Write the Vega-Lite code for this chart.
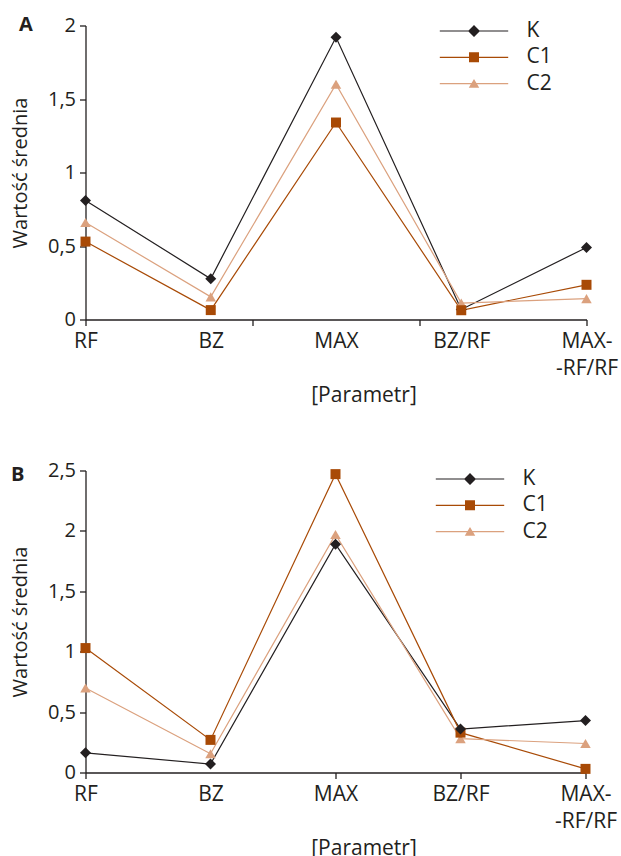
{
  "$schema": "https://vega.github.io/schema/vega-lite/v6.json",
  "padding": {"left": 9.5, "top": 14.5, "right": 0, "bottom": 0},
  "spacing": 55,
  "resolve": {"scale": {"color": "independent", "shape": "independent"}, "legend": {"color": "independent", "shape": "independent"}},
  "data": {"values": [
    {"panel":"A","series":"K","param":"RF","idx":0,"value":0.81},
    {"panel":"A","series":"K","param":"BZ","idx":1,"value":0.277},
    {"panel":"A","series":"K","param":"MAX","idx":2,"value":1.92},
    {"panel":"A","series":"K","param":"BZ/RF","idx":3,"value":0.068},
    {"panel":"A","series":"K","param":"MAX-RF/RF","idx":4,"value":0.49},
    {"panel":"A","series":"C1","param":"RF","idx":0,"value":0.53},
    {"panel":"A","series":"C1","param":"BZ","idx":1,"value":0.064},
    {"panel":"A","series":"C1","param":"MAX","idx":2,"value":1.34},
    {"panel":"A","series":"C1","param":"BZ/RF","idx":3,"value":0.063},
    {"panel":"A","series":"C1","param":"MAX-RF/RF","idx":4,"value":0.236},
    {"panel":"A","series":"C2","param":"RF","idx":0,"value":0.66},
    {"panel":"A","series":"C2","param":"BZ","idx":1,"value":0.154},
    {"panel":"A","series":"C2","param":"MAX","idx":2,"value":1.60},
    {"panel":"A","series":"C2","param":"BZ/RF","idx":3,"value":0.112},
    {"panel":"A","series":"C2","param":"MAX-RF/RF","idx":4,"value":0.142},
    {"panel":"B","series":"K","param":"RF","idx":0,"value":0.163},
    {"panel":"B","series":"K","param":"BZ","idx":1,"value":0.07},
    {"panel":"B","series":"K","param":"MAX","idx":2,"value":1.89},
    {"panel":"B","series":"K","param":"BZ/RF","idx":3,"value":0.36},
    {"panel":"B","series":"K","param":"MAX-RF/RF","idx":4,"value":0.43},
    {"panel":"B","series":"C1","param":"RF","idx":0,"value":1.03},
    {"panel":"B","series":"C1","param":"BZ","idx":1,"value":0.27},
    {"panel":"B","series":"C1","param":"MAX","idx":2,"value":2.47},
    {"panel":"B","series":"C1","param":"BZ/RF","idx":3,"value":0.33},
    {"panel":"B","series":"C1","param":"MAX-RF/RF","idx":4,"value":0.03},
    {"panel":"B","series":"C2","param":"RF","idx":0,"value":0.70},
    {"panel":"B","series":"C2","param":"BZ","idx":1,"value":0.155},
    {"panel":"B","series":"C2","param":"MAX","idx":2,"value":1.97},
    {"panel":"B","series":"C2","param":"BZ/RF","idx":3,"value":0.28},
    {"panel":"B","series":"C2","param":"MAX-RF/RF","idx":4,"value":0.24}
  ]},
  "config": {
    "font": "Open Sans",
    "view": {"stroke": null},
    "axis": {
      "grid": false,
      "domainColor": "#231f20", "domainWidth": 1.3,
      "tickColor": "#231f20", "tickWidth": 1.3, "tickSize": 6,
      "labelColor": "#231f20", "labelFontSize": 20, "labelFont": "Open Sans",
      "titleFont": "Open Sans", "titleFontWeight": "normal", "titleFontSize": 20, "titleColor": "#231f20"
    },
    "legend": {
      "orient": "none", "title": null, "padding": 0,
      "labelFontSize": 21, "labelColor": "#231f20", "labelFont": "Open Sans",
      "symbolSize": 100, "labelOffset": 42, "rowPadding": 4.3,
      "symbolOpacity": 1, "symbolStrokeWidth": 0
    },
    "title": {"fontSize": 20, "fontWeight": "bold", "color": "#231f20", "anchor": "start", "frame": "bounds", "baseline": "alphabetic", "font": "Open Sans"}
  },
  "vconcat": [
    {
      "width": 501, "height": 294,
      "title": {"text": "A", "dx": 8.5, "offset": -19.5},
      "transform": [{"filter": "datum.panel === 'A'"}],
      "encoding": {
        "x": {"field": "idx", "type": "quantitative",
          "scale": {"domain": [0, 4], "nice": false, "zero": false},
          "axis": {"title": "[Parametr]", "values": [0, 1, 1.3333333, 2, 2.6666667, 3, 4],
            "labelExpr": "datum.value==0?'RF':datum.value==1?'BZ':datum.value==2?'MAX':datum.value==3?'BZ/RF':datum.value==4?['MAX-','-RF/RF']:''",
            "labelFontSize": 21, "labelLineHeight": 27, "labelPadding": 5, "labelOverlap": false, "labelFlush": false,
            "tickOpacity": {"condition": {"test": "datum.value==1||datum.value==2||datum.value==3", "value": 0}, "value": 1},
            "titleFontSize": 21, "titleX": 278, "titleAlign": "center", "titlePadding": 6}},
        "y": {"field": "value", "type": "quantitative",
          "scale": {"domain": [0, 2], "nice": false},
          "axis": {"title": "Wartość średnia", "values": [0, 0.5, 1, 1.5, 2], "labelExpr": "replace(format(datum.value,'~g'),'.',',')", "labelPadding": 4, "titlePadding": 17}},
        "color": {"field": "series", "type": "nominal",
          "scale": {"domain": ["K", "C1", "C2"], "range": ["#231f20", "#a84a06", "#dba17e"]},
          "legend": {"legendX": 378, "legendY": -5}}
      },
      "layer": [
        {"mark": {"type": "line", "strokeWidth": 1.2}},
        {"mark": {"type": "point", "filled": true, "size": 100, "opacity": 0},
         "encoding": {"shape": {"field": "series", "type": "nominal",
           "scale": {"domain": ["K", "C1", "C2"], "range": [
             "M-6.84,-0.12H6.84V0.12H-6.84ZM0,-1.2L1.2,0L0,1.2L-1.2,0Z",
             "M-6.84,-0.12H6.84V0.12H-6.84ZM-1,-1H1V1H-1Z",
             "M-6.84,-0.12H6.84V0.12H-6.84ZM0,-0.9L1.05,0.85H-1.05Z"]},
           "legend": {"legendX": 378, "legendY": -5}}}},
        {"transform": [{"filter": "datum.series === 'K'"}], "mark": {"type": "point", "filled": true, "shape": "diamond", "size": 121, "opacity": 1}},
        {"transform": [{"filter": "datum.series === 'C2'"}], "mark": {"type": "point", "filled": true, "shape": "triangle-up", "size": 110, "opacity": 1}},
        {"transform": [{"filter": "datum.series === 'C1'"}], "mark": {"type": "point", "filled": true, "shape": "square", "size": 100, "opacity": 1}}
      ]
    },
    {
      "width": 500, "height": 302,
      "title": {"text": "B", "dx": 0.5, "offset": -24},
      "transform": [{"filter": "datum.panel === 'B'"}],
      "encoding": {
        "x": {"field": "idx", "type": "quantitative",
          "scale": {"domain": [0, 4], "nice": false, "zero": false},
          "axis": {"title": "[Parametr]", "values": [0, 1, 2, 3, 4],
            "labelExpr": "datum.value==0?'RF':datum.value==1?'BZ':datum.value==2?'MAX':datum.value==3?'BZ/RF':datum.value==4?['MAX-','-RF/RF']:''",
            "labelFontSize": 21, "labelLineHeight": 27, "labelPadding": 5, "labelOverlap": false, "labelFlush": false,
            "tickOpacity": {"condition": {"test": "datum.value==1", "value": 0}, "value": 1},
            "titleFontSize": 21, "titleX": 278, "titleAlign": "center", "titlePadding": 6}},
        "y": {"field": "value", "type": "quantitative",
          "scale": {"domain": [0, 2.5], "nice": false},
          "axis": {"title": "Wartość średnia", "values": [0, 0.5, 1, 1.5, 2, 2.5], "labelExpr": "replace(format(datum.value,'~g'),'.',',')", "labelPadding": 4, "titlePadding": 17}},
        "color": {"field": "series", "type": "nominal",
          "scale": {"domain": ["K", "C1", "C2"], "range": ["#231f20", "#a84a06", "#dba17e"]},
          "legend": {"legendX": 374, "legendY": -2}}
      },
      "layer": [
        {"mark": {"type": "line", "strokeWidth": 1.2}},
        {"mark": {"type": "point", "filled": true, "size": 100, "opacity": 0},
         "encoding": {"shape": {"field": "series", "type": "nominal",
           "scale": {"domain": ["K", "C1", "C2"], "range": [
             "M-6.84,-0.12H6.84V0.12H-6.84ZM0,-1.2L1.2,0L0,1.2L-1.2,0Z",
             "M-6.84,-0.12H6.84V0.12H-6.84ZM-1,-1H1V1H-1Z",
             "M-6.84,-0.12H6.84V0.12H-6.84ZM0,-0.9L1.05,0.85H-1.05Z"]},
           "legend": {"legendX": 374, "legendY": -2}}}},
        {"transform": [{"filter": "datum.series === 'C2'"}], "mark": {"type": "point", "filled": true, "shape": "triangle-up", "size": 110, "opacity": 1}},
        {"transform": [{"filter": "datum.series === 'C1'"}], "mark": {"type": "point", "filled": true, "shape": "square", "size": 100, "opacity": 1}},
        {"transform": [{"filter": "datum.series === 'K'"}], "mark": {"type": "point", "filled": true, "shape": "diamond", "size": 121, "opacity": 1}}
      ]
    }
  ]
}
